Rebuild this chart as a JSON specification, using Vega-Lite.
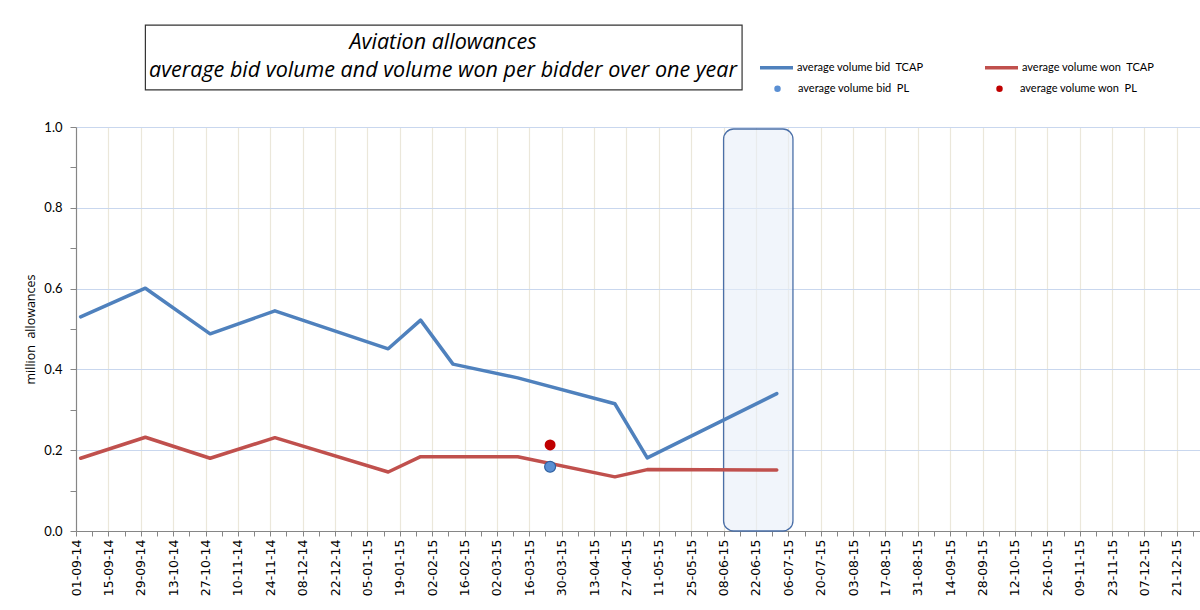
{
  "$schema": "https://vega.github.io/schema/vega-lite/v6.json",
  "width": 1124,
  "height": 404,
  "autosize": {"type": "none"},
  "padding": {"left": 76, "top": 127, "right": 0, "bottom": 79},
  "background": "white",
  "config": {"view": {"stroke": null}},
  "title": {
    "text": ["Aviation allowances", "average bid volume and volume won per bidder over one year"],
    "frame": "group",
    "anchor": "start",
    "align": "center",
    "dx": 367,
    "offset": -79,
    "baseline": "bottom",
    "font": "Open Sans",
    "fontStyle": "italic",
    "fontWeight": "normal",
    "fontSize": 21.5,
    "lineHeight": 28,
    "color": "#000000"
  },
  "data": {
    "values": [
      {"date": "2014-09-03", "series": "average volume bid\u00a0 TCAP", "value": 0.530},
      {"date": "2014-10-01", "series": "average volume bid\u00a0 TCAP", "value": 0.601},
      {"date": "2014-10-29", "series": "average volume bid\u00a0 TCAP", "value": 0.488},
      {"date": "2014-11-26", "series": "average volume bid\u00a0 TCAP", "value": 0.545},
      {"date": "2015-01-14", "series": "average volume bid\u00a0 TCAP", "value": 0.451},
      {"date": "2015-01-28", "series": "average volume bid\u00a0 TCAP", "value": 0.522},
      {"date": "2015-02-11", "series": "average volume bid\u00a0 TCAP", "value": 0.413},
      {"date": "2015-03-11", "series": "average volume bid\u00a0 TCAP", "value": 0.379},
      {"date": "2015-04-22", "series": "average volume bid\u00a0 TCAP", "value": 0.315},
      {"date": "2015-05-06", "series": "average volume bid\u00a0 TCAP", "value": 0.181},
      {"date": "2015-07-01", "series": "average volume bid\u00a0 TCAP", "value": 0.340},
      {"date": "2014-09-03", "series": "average volume won\u00a0 TCAP", "value": 0.180},
      {"date": "2014-10-01", "series": "average volume won\u00a0 TCAP", "value": 0.232},
      {"date": "2014-10-29", "series": "average volume won\u00a0 TCAP", "value": 0.180},
      {"date": "2014-11-26", "series": "average volume won\u00a0 TCAP", "value": 0.231},
      {"date": "2015-01-14", "series": "average volume won\u00a0 TCAP", "value": 0.146},
      {"date": "2015-01-28", "series": "average volume won\u00a0 TCAP", "value": 0.184},
      {"date": "2015-02-11", "series": "average volume won\u00a0 TCAP", "value": 0.184},
      {"date": "2015-03-11", "series": "average volume won\u00a0 TCAP", "value": 0.184},
      {"date": "2015-04-22", "series": "average volume won\u00a0 TCAP", "value": 0.134},
      {"date": "2015-05-06", "series": "average volume won\u00a0 TCAP", "value": 0.152},
      {"date": "2015-07-01", "series": "average volume won\u00a0 TCAP", "value": 0.151},
      {"date": "2015-03-25", "series": "average volume bid\u00a0 PL", "value": 0.159},
      {"date": "2015-03-25", "series": "average volume won\u00a0 PL", "value": 0.213}
    ]
  },
  "layer": [
    {
      "data": {"values": [{"start": "2015-06-08", "end": "2015-07-08"}]},
      "mark": {"type": "rect", "cornerRadius": 10, "fill": "#e8eef8", "fillOpacity": 0.6, "stroke": "#4a6fa8", "strokeWidth": 1.3},
      "encoding": {
        "x": {"field": "start", "type": "temporal"},
        "x2": {"field": "end"},
        "y": {"datum": 0, "type": "quantitative"},
        "y2": {"datum": 0.995}
      }
    },
    {
      "data": {"values": [{}]},
      "mark": {"type": "rect", "fill": "white", "stroke": "#333333", "strokeWidth": 1.2},
      "encoding": {
        "x": {"datum": {"year": 2014, "month": 10, "date": 1, "utc": true}, "type": "temporal"},
        "x2": {"datum": {"year": 2015, "month": 6, "date": 16, "utc": true}},
        "y": {"datum": 1.092, "type": "quantitative"},
        "y2": {"datum": 1.252}
      }
    },
    {
      "transform": [{"filter": "indexof(datum.series, 'TCAP') >= 0"}],
      "mark": {"type": "line", "strokeWidth": 3.5, "strokeCap": "round", "strokeJoin": "round"},
      "encoding": {
        "x": {
          "field": "date",
          "type": "temporal",
          "scale": {"type": "utc", "domain": [1409529600000, 1451520000000]},
          "axis": {
            "title": null,
            "tickCount": 200,
            "values": [1409529600000, 1410134400000, 1410739200000, 1411344000000, 1411948800000, 1412553600000, 1413158400000, 1413763200000, 1414368000000, 1414972800000, 1415577600000, 1416182400000, 1416787200000, 1417392000000, 1417996800000, 1418601600000, 1419206400000, 1419811200000, 1420416000000, 1421020800000, 1421625600000, 1422230400000, 1422835200000, 1423440000000, 1424044800000, 1424649600000, 1425254400000, 1425859200000, 1426464000000, 1427068800000, 1427673600000, 1428278400000, 1428883200000, 1429488000000, 1430092800000, 1430697600000, 1431302400000, 1431907200000, 1432512000000, 1433116800000, 1433721600000, 1434326400000, 1434931200000, 1435536000000, 1436140800000, 1436745600000, 1437350400000, 1437955200000, 1438560000000, 1439164800000, 1439769600000, 1440374400000, 1440979200000, 1441584000000, 1442188800000, 1442793600000, 1443398400000, 1444003200000, 1444608000000, 1445212800000, 1445817600000, 1446422400000, 1447027200000, 1447632000000, 1448236800000, 1448841600000, 1449446400000, 1450051200000, 1450656000000, 1451260800000],
            "labelExpr": "round((datum.value - 1409529600000) / 604800000) % 2 == 0 ? utcFormat(datum.value, '%d-%m-%y') : ''",
            "labelAngle": -90,
            "labelFont": "DejaVu Sans",
            "labelFontSize": 12.5,
            "labelColor": "#000000",
            "labelPadding": 3,
            "labelOverlap": false,
            "labelFlush": false,
            "tickSize": 5,
            "tickColor": "#868686",
            "domainColor": "#868686",
            "domainWidth": 1.2,
            "grid": true,
            "gridColor": "#ebe7da",
            "gridWidth": 1.2,
            "gridOpacity": {"condition": {"test": "round((datum.value - 1409529600000) / 604800000) % 2 == 0 && datum.value > 1409529600000", "value": 1}, "value": 0}
          }
        },
        "y": {
          "field": "value",
          "type": "quantitative",
          "scale": {"domain": [0, 1]},
          "axis": {
            "title": "million\u00a0 allowances",
            "titleFont": "Open Sans",
            "titleFontSize": 12.5,
            "titleFontWeight": "normal",
            "titleColor": "#000000",
            "titlePadding": 6,
            "tickCount": 50,
            "values": [0, 0.1, 0.2, 0.3, 0.4, 0.5, 0.6, 0.7, 0.8, 0.9, 1.0],
            "labelExpr": "round(datum.value * 10) % 2 == 0 ? format(datum.value, '.1f') : ''",
            "labelFont": "Lato",
            "labelFontSize": 13,
            "labelColor": "#000000",
            "labelPadding": 8,
            "tickSize": 6,
            "tickColor": "#868686",
            "domainColor": "#868686",
            "domainWidth": 1.2,
            "grid": true,
            "gridColor": "#c9d7ee",
            "gridWidth": 1.2,
            "gridOpacity": {"condition": {"test": "round(datum.value * 10) % 2 == 0 && datum.value > 0", "value": 1}, "value": 0}
          }
        },
        "stroke": {
          "field": "series",
          "type": "nominal",
          "scale": {"domain": ["average volume bid\u00a0 TCAP", "average volume won\u00a0 TCAP"], "range": ["#4f81bd", "#c0504d"]},
          "legend": {
            "title": null,
            "orient": "none",
            "legendX": 682,
            "legendY": -78,
            "columns": 2,
            "columnPadding": 54,
            "symbolType": "stroke",
            "symbolSize": 1089,
            "symbolStrokeWidth": 3.5,
            "labelFont": "Lato",
            "labelFontSize": 11,
            "labelColor": "#000000",
            "labelOffset": 2,
            "padding": 0
          }
        }
      }
    },
    {
      "transform": [{"filter": "datum.series == 'average volume bid\u00a0 PL'"}],
      "mark": {"type": "point", "filled": true, "size": 120, "stroke": "#2f5f9e", "strokeWidth": 1.2, "opacity": 1},
      "encoding": {
        "x": {"field": "date", "type": "temporal"},
        "y": {"field": "value", "type": "quantitative"},
        "fill": {
          "field": "series",
          "type": "nominal",
          "scale": {"domain": ["average volume bid\u00a0 PL", "average volume won\u00a0 PL"], "range": ["#5a8fd3", "#c00000"]},
          "legend": {
            "title": null,
            "orient": "none",
            "legendX": 696,
            "legendY": -44,
            "columns": 2,
            "columnPadding": 84,
            "symbolType": "circle",
            "symbolSize": 42,
            "symbolStrokeWidth": 0,
            "labelFont": "Lato",
            "labelFontSize": 11,
            "labelColor": "#000000",
            "labelOffset": 15,
            "padding": 0
          }
        }
      }
    },
    {
      "transform": [{"filter": "datum.series == 'average volume won\u00a0 PL'"}],
      "mark": {"type": "point", "filled": true, "size": 120, "strokeWidth": 0, "opacity": 1},
      "encoding": {
        "x": {"field": "date", "type": "temporal"},
        "y": {"field": "value", "type": "quantitative"},
        "fill": {"field": "series", "type": "nominal"}
      }
    }
  ]
}
